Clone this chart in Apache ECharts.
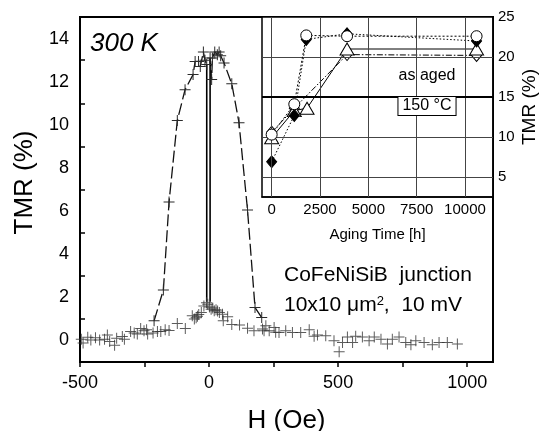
<!DOCTYPE html>
<html>
<head>
<meta charset="utf-8">
<script src="https://cdn.jsdelivr.net/npm/echarts@6/dist/echarts.min.js"></script>
<style>
  html, body { margin: 0; padding: 0; background: #fff; }
  #chart { width: 542px; height: 431px; }
</style>
</head>
<body>
<div id="chart"></div>
<script>
// ---- Field sweep at 300 K : [H (Oe), TMR (%)] ----
const lowBranch = [
  [-495, 0.06], [-488, -0.12], [-470, 0.15], [-458, 0.02], [-440, 0.12], [-424, 0.02],
  [-405, 0.05], [-394, 0.25], [-385, -0.05], [-366, -0.22], [-358, 0.1], [-336, 0.18],
  [-328, 0.05], [-304, 0.42], [-290, 0.35], [-278, 0.3], [-265, 0.55], [-252, 0.45],
  [-242, 0.5], [-238, 0.3], [-217, 0.34], [-200, 0.42], [-187, 0.42], [-170, 0.5],
  [-155, 0.46], [-123, 0.78], [-92, 0.55], [-65, 1.14], [-57, 1.0], [-50, 1.05],
  [-45, 1.12], [-40, 1.2], [-30, 1.3], [-20, 1.6], [-10, 1.75], [-5, 1.68], [2, 1.55],
  [8, 1.45], [14, 1.5], [20, 1.38], [27, 1.42], [33, 1.37], [40, 1.3], [52, 1.22],
  [55, 0.91], [72, 1.1], [88, 0.74], [118, 0.72], [149, 0.57], [174, 0.45], [207, 0.53],
  [213, 0.45], [220, 0.68], [233, 0.45], [252, 0.6], [258, 0.38], [271, 0.37], [297, 0.45],
  [323, 0.37], [355, 0.37], [388, 0.5], [407, 0.19], [420, 0.25], [452, 0.22], [484, -0.02],
  [504, -0.53], [517, -0.1], [536, 0.16], [556, -0.1], [568, 0.2], [594, 0.16], [620, -0.02],
  [640, 0.16], [666, 0.06], [691, -0.17], [710, 0.06], [736, 0.16], [762, -0.1], [782, -0.2],
  [801, -0.02], [833, -0.1], [865, -0.2], [891, -0.1], [923, -0.1], [962, -0.17]
];
const leftHighBranch = [
  [-213, 0.91], [-177, 2.34], [-155, 6.42], [-123, 10.2], [-93, 11.63], [-62, 12.33],
  [-54, 12.94], [-41, 12.94], [-34, 12.7], [-22, 13.38], [-16, 13.0], [-9, 12.8]
];
const rightHighBranch = [
  [204, 1.06], [178, 1.53], [149, 6.05], [116, 10.1], [88, 11.9], [58, 12.87], [45, 13.2],
  [39, 13.38], [32, 13.25], [22, 13.38], [13, 13.1], [10, 12.1], [4, 13.1]
];
const leftSwitch = [[-9, 12.8], [-9, 1.8]];
const rightSwitch = [[4, 13.1], [4, 1.8]];

const fieldLabelValues = [-500, 0, 500, 1000];
const fieldTickValues = [-500, -250, 0, 250, 500, 750, 1000];
const tmrLabelValues = [0, 2, 4, 6, 8, 10, 12, 14];
const tmrTickValues = [1, 3, 5, 7, 9, 11, 13];

// ---- Aging at 150 °C : [aging time (h), TMR (%)] ----
const agingCircles = [[0, 10.3], [1170, 14.1], [1790, 22.7], [3900, 22.6], [10600, 22.6]];
const agingFilledDiamonds = [[0, 6.9], [1170, 12.7], [1790, 22.2], [3900, 22.9], [10600, 22.0]];
const agingTriangles = [[0, 9.9], [1170, 13.3], [1830, 13.6], [3900, 21.0], [10600, 21.0]];
const agingOpenDiamonds = [[0, 10.6], [1170, 13.6], [3900, 20.3], [10600, 20.2]];

const agingLabelValues = [0, 2500, 5000, 7500, 10000];
const agingTmrLabelValues = [5, 10, 15, 20, 25];
const agingGridX = [0, 2500, 5000, 7500, 10000];
const agingGridY = [5, 10, 20];
const agingBoldY = 15;

const FONT = '"Liberation Sans", Arial, Helvetica, sans-serif';
const CROSS = 'path://M0,5H11V6H0ZM5,0H6V11H5Z';
const plain = v => String(v);

const chart = echarts.init(document.getElementById('chart'), null, { renderer: 'canvas' });

const openStyle = { color: '#fff', borderColor: '#000', borderWidth: 1 };

chart.setOption({
  animation: false,
  backgroundColor: '#fff',
  grid: [
    { left: 80, top: 17, width: 413, height: 345, outerBoundsMode: 'none', containLabel: false,
      show: true, borderColor: '#000', borderWidth: 2, backgroundColor: 'transparent' },
    { left: 262, top: 17, width: 231, height: 180, outerBoundsMode: 'none', containLabel: false,
      show: true, borderColor: '#000', borderWidth: 1.5, backgroundColor: '#fff' }
  ],
  xAxis: [
    {
      gridIndex: 0, type: 'value', min: -500, max: 1100,
      name: 'H (Oe)', nameLocation: 'middle', nameGap: 46,
      nameTextStyle: { fontFamily: FONT, fontSize: 26, color: '#000' },
      axisLine: { show: true, onZero: false, lineStyle: { color: '#000', width: 2 } },
      axisTick: { show: true, inside: false, length: 5, customValues: fieldTickValues, lineStyle: { color: '#000', width: 1.5 } },
      axisLabel: { customValues: fieldLabelValues, formatter: plain, fontFamily: FONT, fontSize: 18, color: '#000', margin: 12 },
      splitLine: { show: false }
    },
    {
      gridIndex: 1, type: 'value', min: -500, max: 11450,
      name: 'Aging Time [h]', nameLocation: 'middle', nameGap: 30,
      nameTextStyle: { fontFamily: FONT, fontSize: 15, color: '#000' },
      axisLine: { show: true, onZero: false, lineStyle: { color: '#000', width: 1.5 } },
      axisTick: { show: false },
      axisLabel: { customValues: agingLabelValues, formatter: plain, fontFamily: FONT, fontSize: 15, color: '#000', margin: 5 },
      splitLine: { show: false }
    }
  ],
  yAxis: [
    {
      gridIndex: 0, type: 'value', min: -1, max: 15,
      name: 'TMR (%)', nameLocation: 'middle', nameGap: 42, nameRotate: 90,
      nameTextStyle: { fontFamily: FONT, fontSize: 26, color: '#000', padding: [0, 0, 0, 14] },
      axisLine: { show: true, onZero: false, lineStyle: { color: '#000', width: 2 } },
      axisTick: { show: true, inside: true, length: 5, customValues: tmrTickValues, lineStyle: { color: '#000', width: 1.5 } },
      axisLabel: { customValues: tmrLabelValues, formatter: plain, fontFamily: FONT, fontSize: 18, color: '#000', margin: 11 },
      splitLine: { show: false }
    },
    {
      gridIndex: 1, type: 'value', min: 2.5, max: 25, position: 'right',
      name: 'TMR (%)', nameLocation: 'middle', nameGap: 27, nameRotate: 90,
      nameTextStyle: { fontFamily: FONT, fontSize: 19, color: '#000' },
      axisLine: { show: true, onZero: false, lineStyle: { color: '#000', width: 1.5 } },
      axisTick: { show: false },
      axisLabel: { customValues: agingTmrLabelValues, formatter: plain, fontFamily: FONT, fontSize: 15, color: '#000', margin: 5 },
      splitLine: { show: false }
    }
  ],
  series: [
    // low-resistance branch
    {
      type: 'scatter', xAxisIndex: 0, yAxisIndex: 0, data: lowBranch,
      symbol: CROSS, symbolSize: 11, itemStyle: { color: '#333' }, z: 3
    },
    // high-resistance branches
    {
      type: 'line', xAxisIndex: 0, yAxisIndex: 0, data: leftHighBranch,
      symbol: CROSS, symbolSize: 11, showAllSymbol: true, itemStyle: { color: '#2a2a2a' },
      lineStyle: { color: '#111', width: 1.3, type: [12, 4] }, z: 3
    },
    {
      type: 'line', xAxisIndex: 0, yAxisIndex: 0, data: rightHighBranch,
      symbol: CROSS, symbolSize: 11, showAllSymbol: true, itemStyle: { color: '#2a2a2a' },
      lineStyle: { color: '#111', width: 1.3, type: [12, 4] }, z: 3
    },
    // switching steps
    {
      type: 'line', xAxisIndex: 0, yAxisIndex: 0, data: leftSwitch, symbol: 'none',
      lineStyle: { color: '#000', width: 1.6 }, z: 3
    },
    {
      type: 'line', xAxisIndex: 0, yAxisIndex: 0, data: rightSwitch, symbol: 'none',
      lineStyle: { color: '#000', width: 1.6 }, z: 3
    },
    // inset grid lines
    {
      type: 'line', xAxisIndex: 1, yAxisIndex: 1, data: [], z: 1, silent: true,
      markLine: {
        silent: true, symbol: 'none', label: { show: false }, animation: false,
        lineStyle: { color: '#444', width: 1, type: 'solid' },
        data: agingGridX.map(v => ({ xAxis: v })).concat(agingGridY.map(v => ({ yAxis: v })))
          .concat([{ yAxis: agingBoldY, lineStyle: { color: '#000', width: 2 } }])
      }
    },
    // aging series
    {
      type: 'line', xAxisIndex: 1, yAxisIndex: 1, data: agingOpenDiamonds,
      symbol: 'diamond', symbolSize: [10, 12], itemStyle: openStyle,
      lineStyle: { color: '#000', width: 1, type: [6, 2, 1.5, 2] }, z: 4
    },
    {
      type: 'line', xAxisIndex: 1, yAxisIndex: 1, data: agingTriangles,
      symbol: 'triangle', symbolSize: [14, 12], itemStyle: openStyle,
      lineStyle: { color: '#000', width: 1, type: 'solid' }, z: 4
    },
    {
      type: 'line', xAxisIndex: 1, yAxisIndex: 1, data: agingFilledDiamonds,
      symbol: 'diamond', symbolSize: [10, 12], itemStyle: { color: '#000', borderColor: '#000', borderWidth: 1 },
      lineStyle: { color: '#000', width: 1, type: [1.5, 2] }, z: 4
    },
    {
      type: 'line', xAxisIndex: 1, yAxisIndex: 1, data: agingCircles,
      symbol: 'circle', symbolSize: 11, itemStyle: openStyle,
      lineStyle: { color: '#000', width: 1, type: [2, 2] }, z: 5
    }
  ],
  graphic: [
    {
      type: 'text', x: 90, y: 44, z: 50,
      style: { text: '300 K', fontFamily: FONT, fontSize: 26, fontStyle: 'italic', fill: '#000', verticalAlign: 'middle' }
    },
    {
      type: 'text', x: 427, y: 76, z: 50,
      style: { text: 'as aged', fontFamily: FONT, fontSize: 16, fill: '#000', align: 'center', verticalAlign: 'middle' }
    },
    {
      type: 'text', x: 427, y: 106, z: 50,
      style: {
        text: '150 °C', fontFamily: FONT, fontSize: 16, fill: '#000', align: 'center', verticalAlign: 'middle',
        backgroundColor: '#fff', borderColor: '#000', borderWidth: 1, padding: [1, 4, 1, 4]
      }
    },
    {
      type: 'text', x: 284, y: 275, z: 50,
      style: { text: 'CoFeNiSiB  junction', fontFamily: FONT, fontSize: 21, fill: '#000', verticalAlign: 'middle' }
    },
    {
      type: 'text', x: 284, y: 305, z: 50,
      style: {
        text: '10x10 μm{sup|2},  10 mV', fontFamily: FONT, fontSize: 21, fill: '#000', verticalAlign: 'middle',
        rich: { sup: { fontFamily: FONT, fontSize: 13, lineHeight: 13, verticalAlign: 'top', fill: '#000' } }
      }
    }
  ]
});
</script>
</body>
</html>
